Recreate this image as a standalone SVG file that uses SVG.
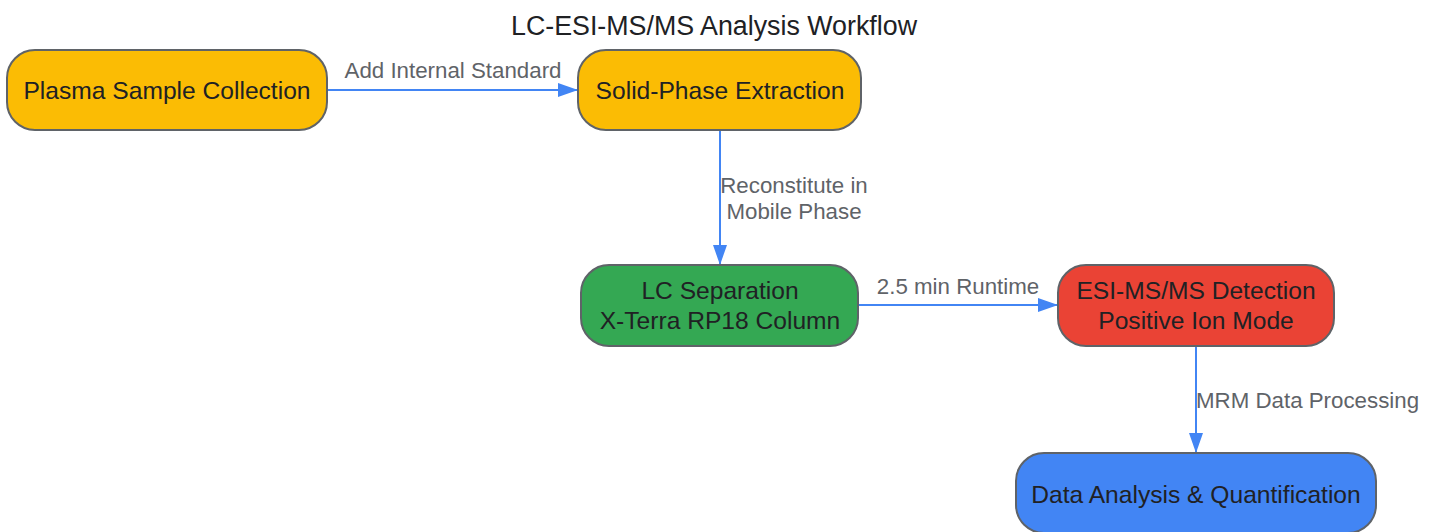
<svg xmlns="http://www.w3.org/2000/svg" width="1434" height="532" viewBox="0 0 1434 532">
<style>
.node{stroke:#5f6368;stroke-width:2}
.nt{font-family:"Liberation Sans",Arial,sans-serif;font-size:24.6px;fill:#202124;text-anchor:middle}
.el{font-family:"Liberation Sans",Arial,sans-serif;font-size:22.3px;fill:#5f6368}
.edge{stroke:#4285F4;stroke-width:2;fill:none;marker-end:url(#arr)}
.title{font-family:"Liberation Sans",Arial,sans-serif;font-size:26.8px;fill:#202124;text-anchor:middle}
</style>
<defs>
<marker id="arr" viewBox="0 0 20 14" refX="20" refY="7" markerWidth="20" markerHeight="14" markerUnits="userSpaceOnUse" orient="auto">
<path d="M0,0 L20,7 L0,14 Z" fill="#4285F4"/>
</marker>
</defs>
<rect width="1434" height="532" fill="#ffffff"/>
<text class="title" x="714" y="35">LC-ESI-MS/MS Analysis Workflow</text>
<g id="connectors">
<path class="edge" d="M327,90 L578,90"/>
<text class="el" x="453" y="78" text-anchor="middle">Add Internal Standard</text>
<path class="edge" d="M720,131 L720,265"/>
<text class="el" x="794" y="193" text-anchor="middle">Reconstitute in</text>
<text class="el" x="794" y="219" text-anchor="middle">Mobile Phase</text>
<path class="edge" d="M858,305 L1058,305"/>
<text class="el" x="958" y="294" text-anchor="middle">2.5 min Runtime</text>
<path class="edge" d="M1196,347 L1196,453"/>
<text class="el" x="1196" y="408">MRM Data Processing</text>
</g>
<g id="n1"><rect class="node" x="7" y="50" width="320" height="80" rx="28" fill="#FBBC04"/><text class="nt" x="167" y="99">Plasma Sample Collection</text></g>
<g id="n2"><rect class="node" x="578" y="50" width="283" height="80" rx="28" fill="#FBBC04"/><text class="nt" x="720" y="99">Solid-Phase Extraction</text></g>
<g id="n3"><rect class="node" x="581" y="265" width="277" height="81" rx="28" fill="#34A853"/><text class="nt" x="720" y="299">LC Separation</text><text class="nt" x="720" y="329">X-Terra RP18 Column</text></g>
<g id="n4"><rect class="node" x="1058" y="265" width="276" height="81" rx="28" fill="#EA4335"/><text class="nt" x="1196" y="299">ESI-MS/MS Detection</text><text class="nt" x="1196" y="329">Positive Ion Mode</text></g>
<g id="n5"><rect class="node" x="1016" y="453" width="360" height="80" rx="28" fill="#4285F4"/><text class="nt" x="1196" y="503">Data Analysis &amp; Quantification</text></g>
</svg>
